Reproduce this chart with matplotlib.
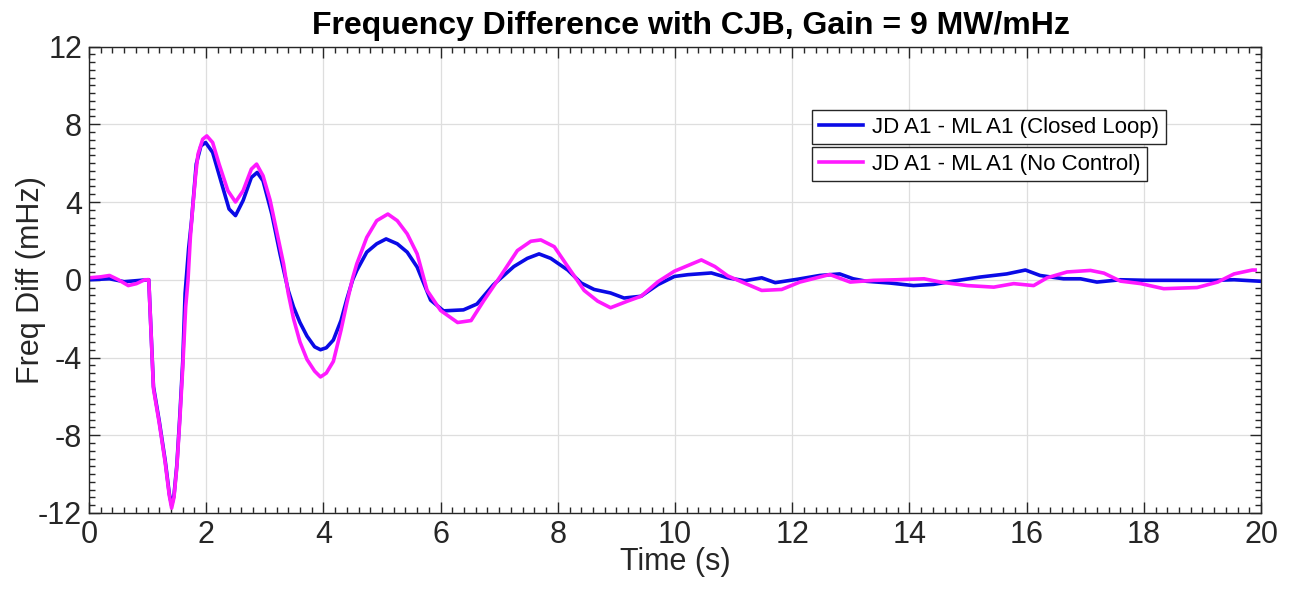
import matplotlib
matplotlib.use("Agg")
import matplotlib.pyplot as plt
from matplotlib.ticker import MultipleLocator
from matplotlib.lines import Line2D

plt.rcParams['font.family'] = ['Liberation Sans', 'DejaVu Sans']
plt.rcParams['axes.unicode_minus'] = False

title = "Frequency Difference with CJB, Gain = 9 MW/mHz"
xlabel = "Time (s)"
ylabel = "Freq Diff (mHz)"
label_closed = "JD A1 - ML A1 (Closed Loop)"
label_nocontrol = "JD A1 - ML A1 (No Control)"

t_closed = [0, 0.35, 0.6, 0.8, 1.0, 1.02, 1.1, 1.2, 1.3, 1.37, 1.41, 1.45, 1.5, 1.55, 1.6,
            1.64, 1.7, 1.75, 1.83, 1.91, 1.99, 2.11, 2.25, 2.39, 2.5, 2.63, 2.77, 2.87,
            2.97, 3.12, 3.26, 3.4, 3.49, 3.6, 3.72, 3.85, 3.95, 4.05, 4.17, 4.3, 4.4,
            4.5, 4.57, 4.74, 4.91, 5.07, 5.26, 5.43, 5.6, 5.83, 6.05, 6.39,
            6.62, 6.9, 7.25, 7.48, 7.68, 7.88, 8.17, 8.4, 8.62, 8.9, 9.13, 9.42, 9.71,
            9.99, 10.22, 10.62, 10.9, 11.19, 11.48, 11.71, 12.1, 12.47, 12.81, 13.04,
            13.27, 13.67, 14.07, 14.41, 14.75, 15.21, 15.66, 15.98, 16.23, 16.63, 16.92,
            17.2, 17.6, 18.06, 18.63, 19.2, 19.54, 20.0]
v_closed = [0.0, 0.05, -0.1, -0.05, 0.0, 0.0, -5.5, -7.3, -9.3, -11.0, -11.6, -11.1, -9.5,
            -7.0, -4.2, -0.7, 1.6, 3.04, 5.95, 6.89, 7.06, 6.55, 5.09, 3.64, 3.3, 4.08,
            5.26, 5.52, 5.09, 3.38, 1.33, -0.55, -1.4, -2.2, -2.9, -3.45, -3.6, -3.5,
            -3.1, -2.1, -1.0, 0.0, 0.48, 1.42, 1.85, 2.1, 1.85, 1.42, 0.65, -1.05, -1.6,
            -1.55, -1.25, -0.26, 0.68, 1.1, 1.33, 1.1, 0.5, -0.17, -0.5, -0.68, -0.94,
            -0.85, -0.25, 0.17, 0.26, 0.35, 0.1, -0.05, 0.1, -0.15, 0.03, 0.22, 0.3,
            0.05, -0.08, -0.17, -0.3, -0.24, -0.07, 0.14, 0.3, 0.5, 0.22, 0.05, 0.05,
            -0.12, 0.0, -0.03, -0.03, -0.03, 0.0, -0.08]

t_nocontrol = [0, 0.2, 0.35, 0.5, 0.67, 0.81, 0.95, 1.0, 1.02, 1.1, 1.2, 1.3, 1.37, 1.41,
               1.45, 1.5, 1.55, 1.6, 1.65, 1.69, 1.73, 1.77, 1.82, 1.86, 1.94, 2.01, 2.11,
               2.22, 2.37, 2.5, 2.63, 2.77, 2.86, 2.97, 3.09, 3.2, 3.32, 3.4, 3.49, 3.6,
               3.72, 3.85, 3.95, 4.05, 4.17, 4.3, 4.4, 4.5, 4.57, 4.74, 4.91, 5.1, 5.26,
               5.43, 5.6, 5.77, 6.0, 6.29, 6.52, 6.74, 7.03, 7.31, 7.54, 7.71, 7.94, 8.17,
               8.45, 8.68, 8.9, 9.19, 9.42, 9.71, 9.99, 10.22, 10.45, 10.68, 10.9, 11.13,
               11.48, 11.82, 12.13, 12.64, 12.99, 13.39, 13.79, 14.25, 14.53, 14.99, 15.44,
               15.78, 16.12, 16.35, 16.69, 17.09, 17.32, 17.6, 17.95, 18.34, 18.91, 19.26,
               19.54, 19.85, 19.9]
v_nocontrol = [0.1, 0.15, 0.22, 0.0, -0.3, -0.2, 0.0, 0.0, 0.0, -5.6, -7.4, -9.4, -11.1,
               -11.75, -11.2, -9.6, -7.2, -4.5, -1.4, 0.0, 2.2, 3.72, 5.4, 6.46, 7.23, 7.4,
               7.06, 5.95, 4.58, 4.0, 4.58, 5.69, 5.95, 5.35, 4.1, 2.53, 0.82, -0.7, -2.0,
               -3.2, -4.1, -4.7, -5.0, -4.8, -4.2, -2.6, -1.2, 0.1, 0.82, 2.18, 3.04, 3.38,
               3.04, 2.36, 1.33, -0.55, -1.58, -2.2, -2.1, -1.06, 0.22, 1.5, 1.98, 2.05,
               1.7, 0.68, -0.55, -1.1, -1.44, -1.1, -0.85, -0.1, 0.44, 0.73, 1.02, 0.68,
               0.2, -0.1, -0.55, -0.5, -0.12, 0.27, -0.12, -0.03, 0.0, 0.05, -0.12, -0.3,
               -0.38, -0.2, -0.3, 0.1, 0.4, 0.48, 0.34, -0.07, -0.2, -0.46, -0.4, -0.12,
               0.3, 0.5, 0.5]

x_ticks = [0, 2, 4, 6, 8, 10, 12, 14, 16, 18, 20]
y_ticks = [-12, -8, -4, 0, 4, 8, 12]

fig = plt.figure(figsize=(12.89, 5.9), dpi=100)
ax = fig.add_axes([89/1289, 1-513/590, (1261-89)/1289, (513-46.5)/590])

blue = '#0a0ae6'
magenta = '#ff1aff'
ax.plot(t_closed, v_closed, color=blue, lw=2.6, solid_joinstyle='round')
ax.plot(t_nocontrol, v_nocontrol, color=magenta, lw=2.6, solid_joinstyle='round')

ax.set_xlim(0, 20)
ax.set_ylim(-12, 12)
ax.set_xticks(x_ticks)
ax.set_yticks(y_ticks)
ax.xaxis.set_minor_locator(MultipleLocator(0.2))
ax.yaxis.set_minor_locator(MultipleLocator(0.4))
ax.tick_params(which='both', direction='in', top=True, right=True, colors='#262626',
               labelsize=22)
ax.tick_params(which='major', length=8, width=1.0)
ax.tick_params(which='minor', length=4.5, width=1.0)
ax.tick_params(axis='x', pad=5)
ax.tick_params(axis='y', pad=5)
ax.grid(True, which='major', color='#dedede', lw=0.9)
ax.set_axisbelow(True)
for s in ax.spines.values():
    s.set_color('#262626')
    s.set_linewidth(1.0)

ax.set_title(title, fontsize=23, fontweight='bold', pad=9, x=0.514)
ax.set_xlabel(xlabel, fontsize=22, color='#262626', labelpad=-2)
ax.set_ylabel(ylabel, fontsize=22, color='#262626', labelpad=-6)

h1 = [Line2D([], [], color=blue, lw=2.6)]
h2 = [Line2D([], [], color=magenta, lw=2.6)]
common = dict(loc='upper left', fontsize=16, frameon=True, fancybox=False, framealpha=1,
              edgecolor='#262626', handlelength=2.0, handletextpad=0.4,
              borderpad=0.3, borderaxespad=0)
leg1 = ax.legend(h1, [label_closed], bbox_to_anchor=(812/1289, 1-110/590),
                 bbox_transform=fig.transFigure, **common)
ax.add_artist(leg1)
leg2 = ax.legend(h2, [label_nocontrol], bbox_to_anchor=(812/1289, 1-147/590),
                 bbox_transform=fig.transFigure, **common)
for lg in (leg1, leg2):
    lg.get_frame().set_linewidth(1.0)

fig.savefig('out.png', dpi=100)
